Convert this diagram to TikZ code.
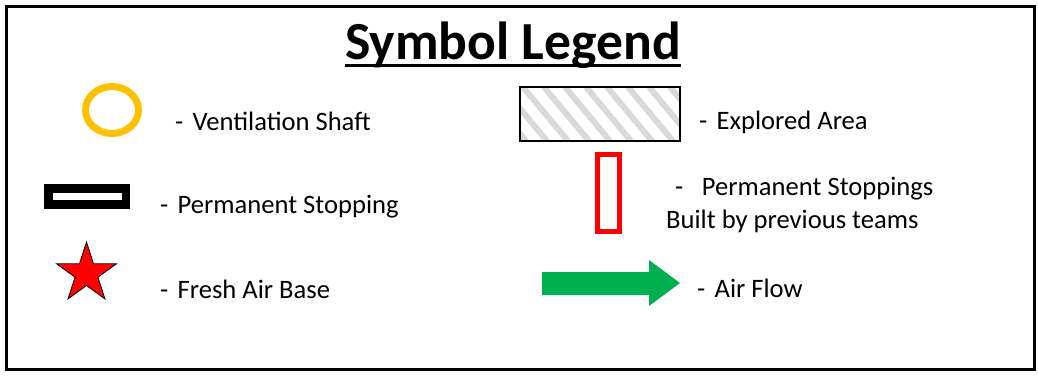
\documentclass[tikz,border=0pt]{standalone}
\usepackage{fontspec}
\setmainfont{Carlito}
\definecolor{shaftc}{HTML}{FFC000}
\definecolor{flowc}{HTML}{00B050}
\definecolor{hatchc}{HTML}{D9D9D9}
\tikzset{
  lbl/.style={anchor=base west, inner sep=0pt, font=\fontsize{26.6}{30}\selectfont},
}
\begin{document}
\begin{tikzpicture}[x=1pt,y=-1pt]
\useasboundingbox (0,0) rectangle (1038,375);
% frame
\draw[line width=3pt] (6.5,6.5) rectangle (1034.5,369.5);
% title
\node[anchor=base, inner sep=0pt, font=\fontsize{53.6}{60}\bfseries\selectfont] (title) at (513,59) {Symbol Legend};
\draw[line width=3pt] ([yshift=-6pt]title.base west) -- ([yshift=-6pt]title.base east);
% ventilation shaft
\draw[shaftc, line width=7pt] (112,110) ellipse [x radius=26.5, y radius=23.5];
\node[lbl] (vs) at (175,130) {-\hspace{0.35em}Ventilation Shaft};
% permanent stopping
\draw[line width=8.5pt] (48.25,188.25) rectangle (125.75,204.5);
\node[lbl] (ps) at (160,213) {-\hspace{0.35em}Permanent Stopping};
% star
\draw[fill=red, line width=0.8pt, line join=miter]
  (86.5,273.5) +(-90:31.5) -- +(-54:12) -- +(-18:31.5) -- +(18:12) -- +(54:31.5)
  -- +(90:12) -- +(126:31.5) -- +(162:12) -- +(198:31.5) -- +(234:12) -- cycle;
\node[lbl] (fab) at (160,298) {-\hspace{0.35em}Fresh Air Base};
% explored area
\begin{scope}
  \clip (520,87) rectangle (680,141);
  \foreach \x in {460,481,...,700}
    \draw[hatchc, line width=6pt] (\x,87) -- (\x+45,141);
\end{scope}
\draw[line width=2.2pt] (520,87) rectangle (680,141);
\node[lbl] (ea) at (699,129) {-\hspace{0.35em}Explored Area};
% red stoppings
\draw[red, line width=5pt] (597.5,154.5) rectangle (619.5,231.5);
\node[lbl] (pss) at (675,195) {-\hspace{0.7em}Permanent Stoppings};
\node[lbl] (bpt) at (666,228) {Built by previous teams};
% air flow arrow
\fill[flowc] (542,272) -- (649,272) -- (649,260) -- (680,283) -- (649,306) -- (649,295) -- (542,295) -- cycle;
\node[lbl] (af) at (697,297) {-\hspace{0.35em}Air Flow};
\end{tikzpicture}
\end{document}
